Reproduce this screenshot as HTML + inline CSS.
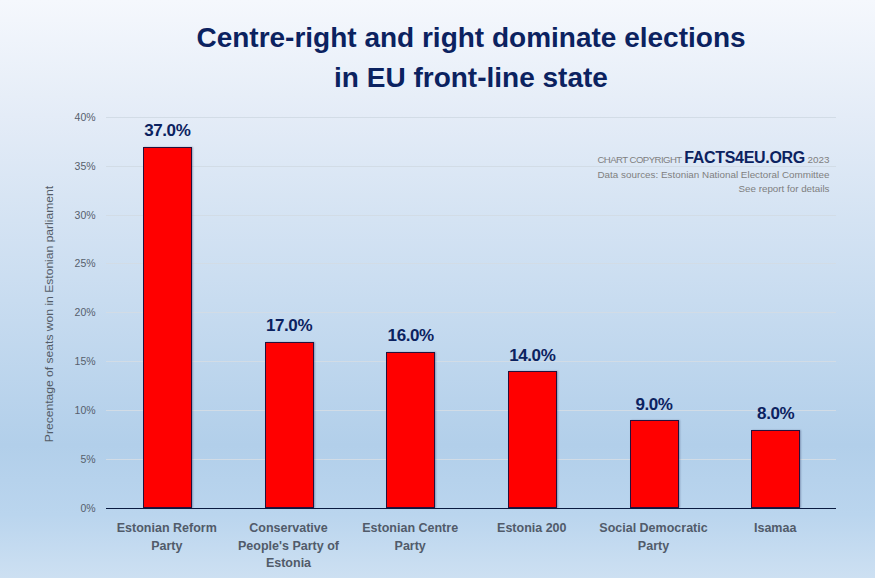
<!DOCTYPE html>
<html><head><meta charset="utf-8"><style>
html,body{margin:0;padding:0;}
body{width:875px;height:578px;overflow:hidden;position:relative;font-family:"Liberation Sans",sans-serif;
background:linear-gradient(180deg,#f5f8fd 0%,#e4ecf7 20%,#c8dcf0 52%,#b2cfea 77%,#bad5ee 89%,#cde0f2 100%);}
.title{position:absolute;left:0;width:942px;text-align:center;color:#0b2260;font-weight:bold;font-size:28px;line-height:40px;top:18px;}
.grid{position:absolute;left:106px;width:730px;height:1px;background:#d2dce6;}
.ylab{position:absolute;left:40.6px;width:55px;text-align:right;font-size:10.5px;line-height:16px;color:#56606c;}
.bar{position:absolute;box-sizing:border-box;background:#ff0000;border:1px solid #26103a;box-shadow:1px 0 1.5px rgba(40,50,90,0.35);}
.dlab{position:absolute;width:100px;text-align:center;font-weight:bold;font-size:17px;letter-spacing:-0.4px;line-height:20px;color:#0b2260;}
.clab{position:absolute;top:520px;width:120px;text-align:center;font-weight:bold;font-size:12.5px;line-height:17.5px;color:#515b6a;}
.axis{position:absolute;left:106px;width:730px;top:507.6px;height:1.6px;background:#0a1a40;}
.ytitle{position:absolute;left:49px;top:314px;width:0;height:0;}
.ytitle span{position:absolute;white-space:nowrap;font-size:11px;line-height:14px;color:#535c68;transform:translate(-50%,-50%) rotate(-90deg) scaleX(1.1);}
.copy{position:absolute;right:45.5px;text-align:right;color:#7f7f7f;white-space:nowrap;}
</style></head><body>
<div class="title">Centre-right and right dominate elections<br>in EU front-line state</div>
<div class="grid" style="top:458.7px"></div>
<div class="grid" style="top:409.9px"></div>
<div class="grid" style="top:361.1px"></div>
<div class="grid" style="top:312.2px"></div>
<div class="grid" style="top:263.4px"></div>
<div class="grid" style="top:214.6px"></div>
<div class="grid" style="top:165.8px"></div>
<div class="grid" style="top:117.0px"></div>
<div class="ylab" style="top:499.5px">0%</div>
<div class="ylab" style="top:450.7px">5%</div>
<div class="ylab" style="top:401.9px">10%</div>
<div class="ylab" style="top:353.1px">15%</div>
<div class="ylab" style="top:304.2px">20%</div>
<div class="ylab" style="top:255.4px">25%</div>
<div class="ylab" style="top:206.6px">30%</div>
<div class="ylab" style="top:157.8px">35%</div>
<div class="ylab" style="top:109.0px">40%</div>
<div class="bar" style="left:142.9px;width:49px;top:146.8px;height:361.2px"></div>
<div class="dlab" style="left:117.3px;top:121.2px">37.0%</div>
<div class="clab" style="left:106.8px">Estonian Reform<br>Party</div>
<div class="bar" style="left:264.6px;width:49px;top:342.0px;height:166.0px"></div>
<div class="dlab" style="left:239.0px;top:316.4px">17.0%</div>
<div class="clab" style="left:228.5px">Conservative<br>People&#39;s Party of<br>Estonia</div>
<div class="bar" style="left:386.3px;width:49px;top:351.8px;height:156.2px"></div>
<div class="dlab" style="left:360.7px;top:326.2px">16.0%</div>
<div class="clab" style="left:350.2px">Estonian Centre<br>Party</div>
<div class="bar" style="left:507.9px;width:49px;top:371.3px;height:136.7px"></div>
<div class="dlab" style="left:482.3px;top:345.7px">14.0%</div>
<div class="clab" style="left:471.8px">Estonia 200</div>
<div class="bar" style="left:629.6px;width:49px;top:420.1px;height:87.9px"></div>
<div class="dlab" style="left:604.0px;top:394.5px">9.0%</div>
<div class="clab" style="left:593.5px">Social Democratic<br>Party</div>
<div class="bar" style="left:751.3px;width:49px;top:429.9px;height:78.1px"></div>
<div class="dlab" style="left:725.7px;top:404.3px">8.0%</div>
<div class="clab" style="left:715.2px">Isamaa</div>
<div class="axis"></div>
<div class="ytitle"><span>Precentage of seats won in Estonian parliament</span></div>
<div class="copy" style="top:149px;font-size:9px;line-height:18px;"><span style="font-size:9.6px;letter-spacing:-0.55px">CHART COPYRIGHT</span> <b style="font-size:16px;letter-spacing:-0.3px;color:#0b2260">FACTS4EU.ORG</b> <span style="font-size:9.9px">2023</span></div>
<div class="copy" style="top:168.5px;font-size:9.85px;line-height:12px;">Data sources: Estonian National Electoral Committee</div>
<div class="copy" style="top:182.5px;font-size:9.8px;line-height:12px;">See report for details</div>
</body></html>
